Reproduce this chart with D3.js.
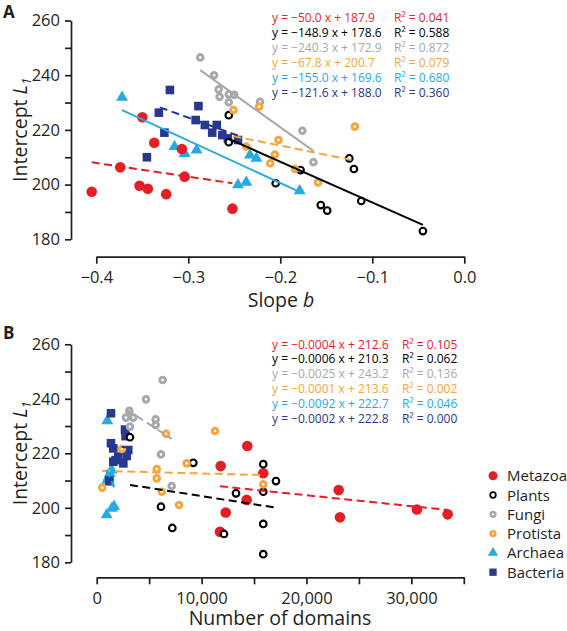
<!DOCTYPE html>
<html><head><meta charset="utf-8">
<script src="https://cdn.jsdelivr.net/npm/d3@7"></script>
<style>
body{margin:0;background:#fff}
svg{display:block}
text{font-family:"Open Sans",sans-serif;fill:#231f20}
</style>
</head><body>
<svg id="c" width="567" height="631"></svg>
<script>
// ---------------- DATA ----------------
const groups = ["Metazoa","Plants","Fungi","Protista","Archaea","Bacteria"];
const groupColors = ["#e31f26","#000000","#a6a8ab","#f6a53c","#27aae1","#27388f"];

// Panel A: [slope b, intercept L1]
const slopeMetazoa = [[-0.350,224.6],[-0.337,215.3],[-0.307,213.0],[-0.405,197.4],[-0.374,206.3],[-0.353,199.6],[-0.344,198.5],[-0.324,196.5],[-0.304,202.9],[-0.252,191.2]];
const slopePlants = [[-0.256,225.4],[-0.256,215.5],[-0.205,200.5],[-0.178,205.3],[-0.156,192.5],[-0.149,190.5],[-0.125,209.6],[-0.120,205.7],[-0.112,194.0],[-0.045,183.0]];
const slopeFungi = [[-0.287,246.5],[-0.272,240.0],[-0.267,234.8],[-0.266,232.1],[-0.256,233.0],[-0.250,232.8],[-0.256,230.1],[-0.222,230.3],[-0.176,219.7],[-0.164,208.2]];
const slopeProtista = [[-0.251,227.3],[-0.223,228.5],[-0.237,213.9],[-0.202,216.3],[-0.206,211.0],[-0.211,207.8],[-0.184,205.7],[-0.159,200.8],[-0.119,221.2]];
const slopeArchaea = [[-0.372,231.9],[-0.315,213.9],[-0.304,211.4],[-0.291,212.6],[-0.233,210.8],[-0.226,209.6],[-0.246,199.9],[-0.237,200.8],[-0.179,197.7]];
const slopeBacteria = [[-0.320,234.6],[-0.332,226.3],[-0.326,219.0],[-0.345,210.0],[-0.289,228.7],[-0.292,223.6],[-0.282,221.8],[-0.269,221.8],[-0.274,219.0],[-0.263,218.1],[-0.257,216.9],[-0.246,216.3]];

// Panel A regressions
const fitASlope = [-50.0,-148.9,-240.3,-67.8,-155.0,-121.6];
const fitAIntercept = [187.9,178.6,172.9,200.7,169.6,188.0];
const fitAR2 = ["0.041","0.588","0.872","0.079","0.680","0.360"];
const fitAFrom = [-0.405,-0.256,-0.287,-0.251,-0.372,-0.331];
const fitATo = [-0.252,-0.045,-0.164,-0.119,-0.179,-0.246];

// Panel B: [number of domains, intercept L1]
const domainsMetazoa = [[11820,215.3],[15880,212.7],[14300,202.9],[12300,198.3],[11750,191.2],[23070,206.5],[23190,196.5],[30530,199.4],[33460,197.6],[14360,222.7]];
const domainsPlants = [[3170,225.9],[9210,216.5],[15880,216.0],[17090,209.8],[13280,205.3],[15880,205.9],[6130,200.4],[7210,192.6],[12140,190.4],[15880,194.1],[15880,183.0]];
const domainsFungi = [[6290,246.9],[4700,239.8],[3110,235.6],[2790,233.1],[3490,233.1],[3170,229.8],[5620,232.5],[5620,230.4],[6130,219.6],[7150,208.0]];
const domainsProtista = [[2410,221.6],[6610,227.2],[11280,228.2],[8580,216.3],[5720,214.2],[5720,210.8],[530,207.4],[6200,205.9],[7850,201.0],[15880,208.6]];
const domainsArchaea = [[1010,231.9],[1430,213.9],[1250,212.6],[1150,211.4],[1010,210.2],[1200,209.3],[1650,200.5],[1450,199.8],[950,197.4]];
const domainsBacteria = [[1360,234.7],[2700,228.7],[2750,226.3],[1360,223.7],[1580,221.8],[3010,221.2],[2060,218.8],[2860,219.0],[1580,216.9],[2540,216.3],[1800,217.5],[1200,210.0]];

// Panel B regressions
const fitBSlope = [-0.0004,-0.0006,-0.0025,-0.0001,-0.0092,-0.0002];
const fitBIntercept = [212.6,210.3,243.2,213.6,222.7,222.8];
const fitBR2 = ["0.105","0.062","0.136","0.002","0.046","0.000"];
const fitBFrom = [11750,3170,2790,530,950,1200];
const fitBTo = [33460,17090,7150,15880,1650,3010];

// Axis ticks
const slopeTicks = [-0.4,-0.3,-0.2,-0.1,0.0];
const domainTicks = [0,5000,10000,15000,20000,25000,30000,35000];
const domainTickLabels = [0,10000,20000,30000];
const interceptTicks = [180,190,200,210,220,230,240,250,260];
const interceptTickLabels = [180,200,220,240,260];

// ---------------- DRAWING ----------------
const svg = d3.select("#c");
const axisColor = "#231f20";
const drawOrder = [4,5,0,1,2,3];

function marker(g, gi, x, y, s) {
  s = s || 1;
  const col = groupColors[gi];
  if (gi === 0) {
    g.append("circle").attr("cx",x).attr("cy",y).attr("r",5.3*s).attr("fill",col);
  } else if (gi === 1) {
    g.append("circle").attr("cx",x).attr("cy",y).attr("r",3.3*s).attr("fill","#fff").attr("stroke",col).attr("stroke-width",2.1*s);
  } else if (gi === 2 || gi === 3) {
    g.append("circle").attr("cx",x).attr("cy",y).attr("r",2.8*s).attr("fill","#fff").attr("stroke",col).attr("stroke-width",3*s);
  } else if (gi === 4) {
    g.append("path").attr("d", d3.symbol(d3.symbolTriangle, 62*s*s)()).attr("transform",`translate(${x},${y})`).attr("fill",col);
  } else {
    const a = 8.6*s;
    g.append("rect").attr("x",x-a/2).attr("y",y-a/2).attr("width",a).attr("height",a).attr("fill",col);
  }
}

function panel(cfg) {
  const g = svg.append("g");
  const x = d3.scaleLinear().domain(cfg.xDomain).range(cfg.xRange);
  const y = d3.scaleLinear().domain([180,260]).range(cfg.yRange);

  // y axis
  const ya = g.append("g").attr("transform",`translate(${cfg.yAxisX},0)`)
    .call(d3.axisLeft(y).tickValues(interceptTicks).tickSize(6).tickSizeOuter(0).tickPadding(5)
      .tickFormat(d => interceptTickLabels.includes(d) ? d3.format("d")(d) : ""));
  // x axis
  const xa = g.append("g").attr("transform",`translate(0,${cfg.xAxisY})`)
    .call(d3.axisBottom(x).tickValues(cfg.xTicks).tickSize(7).tickSizeOuter(0).tickPadding(8)
      .tickFormat(cfg.xFormat));
  [ya, xa].forEach(a => {
    a.select(".domain").attr("stroke",axisColor).attr("stroke-width",1.7);
    a.selectAll(".tick line").attr("stroke",axisColor).attr("stroke-width",1.7);
    a.selectAll(".tick text").attr("font-size",16.5).attr("font-family","Open Sans").attr("fill",axisColor);
    a.selectAll(".tick text").filter(function(){ return this.textContent === ""; }).remove();
  });

  // points
  drawOrder.forEach(gi => {
    cfg.series[gi].forEach(d => marker(g, gi, x(d[0]), y(d[1])));
  });

  // regression lines
  const solid = cfg.solid;
  groups.forEach((name, gi) => {
    const x0 = cfg.from[gi], x1 = cfg.to[gi];
    const f = v => cfg.slope[gi]*v + cfg.intercept[gi];
    g.append("line")
      .attr("x1",x(x0)).attr("y1",y(f(x0)))
      .attr("x2",x(x1)).attr("y2",y(f(x1)))
      .attr("stroke",groupColors[gi]).attr("stroke-width",2)
      .attr("stroke-dasharray", solid[gi] ? null : "8,4.5");
  });

  // equations
  groups.forEach((name, gi) => {
    const yy = cfg.eqY0 + cfg.eqDy*gi;
    const m = cfg.mFormat(cfg.slope[gi]);
    const c = d3.format(".1f")(cfg.intercept[gi]);
    g.append("text").attr("x",272).attr("y",yy).attr("font-size",12)
      .style("fill",groupColors[gi]).text(`y = ${m} x + ${c}`);
    g.append("text").attr("x",cfg.r2X).attr("y",yy).attr("font-size",12)
      .style("fill",groupColors[gi]).text(`R\u00B2 = ${cfg.r2[gi]}`);
  });

  // axis titles
  const yt = g.append("text").attr("transform",`translate(27,${(cfg.yRange[0]+cfg.yRange[1])/2}) rotate(-90)`)
    .attr("text-anchor","middle").attr("font-size",19.5);
  yt.append("tspan").text("Intercept ");
  yt.append("tspan").attr("font-style","italic").text("L");
  yt.append("tspan").attr("font-style","italic").attr("font-size",13).attr("dy",4).text("1");

  const xt = g.append("text").attr("x",cfg.xTitleX).attr("y",cfg.xTitleY)
    .attr("text-anchor","middle").attr("font-size",19.5);
  cfg.xTitle(xt);

  // panel letter
  g.append("text").attr("x",3).attr("y",cfg.letterY).attr("font-size",17).attr("font-weight","bold")
    .attr("font-family","Liberation Sans, Arial, sans-serif").text(cfg.letter);
  return {x, y};
}

panel({
  letter:"A", letterY:18,
  xDomain:[-0.4,0], xRange:[96.3,464.3], yRange:[239.3,20.5],
  yAxisX:71, xAxisY:256.7,
  xTicks:slopeTicks, xFormat:d3.format(".1f"),
  series:[slopeMetazoa,slopePlants,slopeFungi,slopeProtista,slopeArchaea,slopeBacteria],
  slope:fitASlope, intercept:fitAIntercept, r2:fitAR2, from:fitAFrom, to:fitATo,
  solid:[false,true,true,false,true,false],
  mFormat:d3.format(".1f"),
  eqY0:21.7, eqDy:15.1, r2X:394,
  xTitleX:281, xTitleY:307,
  xTitle: t => { t.append("tspan").text("Slope "); t.append("tspan").attr("font-style","italic").text("b"); }
});

panel({
  letter:"B", letterY:339,
  xDomain:[0,35000], xRange:[96.7,463.8], yRange:[562.3,344.3],
  yAxisX:71, xAxisY:577.3,
  xTicks:domainTicks, xFormat: d => domainTickLabels.includes(d) ? d3.format(",")(d) : "",
  series:[domainsMetazoa,domainsPlants,domainsFungi,domainsProtista,domainsArchaea,domainsBacteria],
  slope:fitBSlope, intercept:fitBIntercept, r2:fitBR2, from:fitBFrom, to:fitBTo,
  solid:[false,false,false,false,false,false],
  mFormat:d3.format(".4f"),
  eqY0:348.6, eqDy:14.8, r2X:402,
  xTitleX:280, xTitleY:625,
  xTitle: t => t.text("Number of domains")
});

// legend
const lg = svg.append("g");
groups.forEach((name, gi) => {
  const yy = 475.7 + 19.3*gi;
  marker(lg, gi, 493, yy, 0.85);
  lg.append("text").attr("x",507).attr("y",yy+5.5).attr("font-size",15).text(name);
});
</script>
</body></html>
